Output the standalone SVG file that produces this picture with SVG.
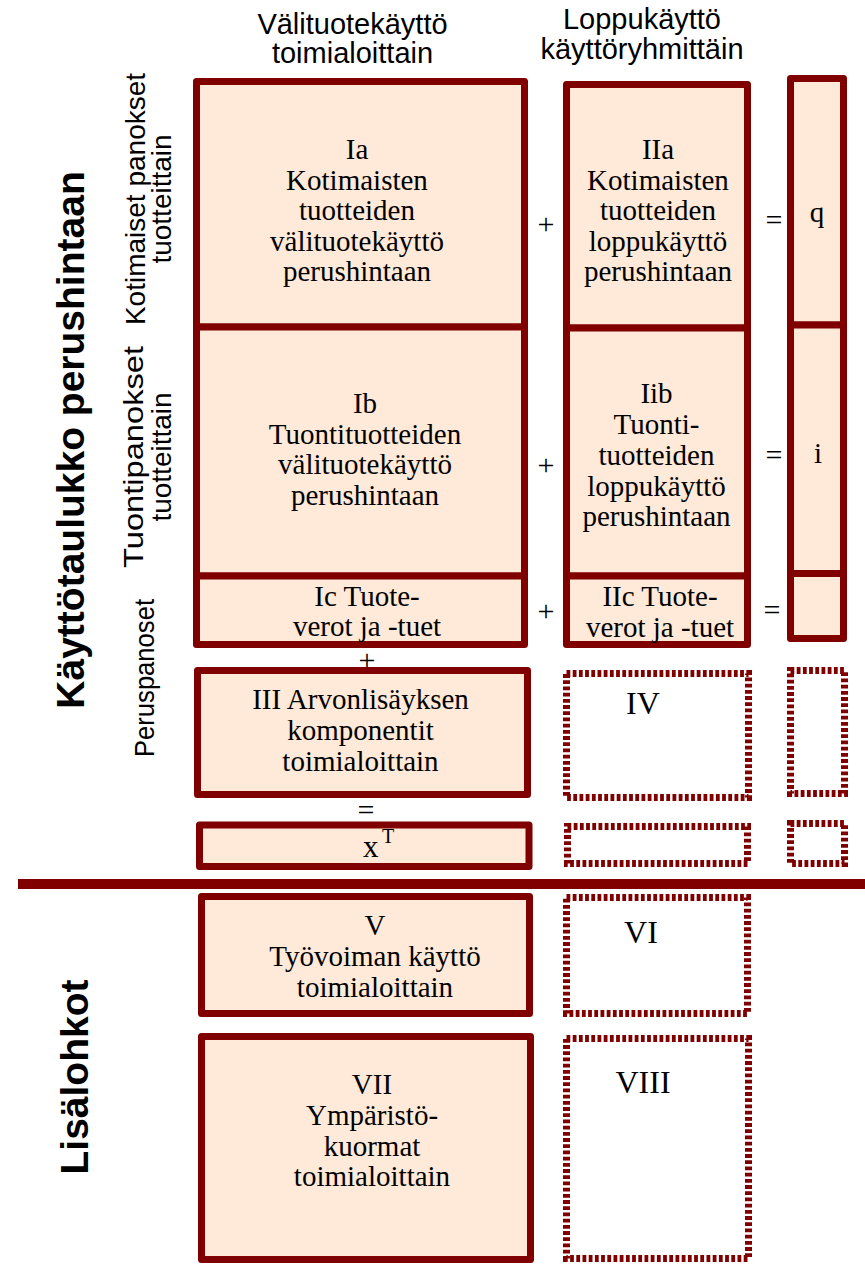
<svg xmlns="http://www.w3.org/2000/svg" width="865" height="1265" viewBox="0 0 865 1265">
<style>
.box{fill:#FFE9D8;stroke:#800000;stroke-width:7;stroke-linejoin:round}
.dash{fill:none;stroke:#800000;stroke-width:7;stroke-dasharray:3.8 2.4}
.t{font-family:"Liberation Serif","Times New Roman",serif;font-size:29px;fill:#000;text-anchor:middle}
.big{font-size:32px}
.op{font-size:30px}
.s{font-family:"Liberation Sans",Arial,sans-serif;font-size:28px;fill:#000;text-anchor:middle}
.h{font-family:"Liberation Sans",Arial,sans-serif;font-size:29px;fill:#000;text-anchor:middle}
.b{font-family:"Liberation Sans",Arial,sans-serif;font-size:39px;font-weight:bold;fill:#000;text-anchor:middle}
</style>
<rect width="865" height="1265" fill="#fff"/>
<g id="headers">
<text class="h" x="352.5" y="34">Välituotekäyttö</text>
<text class="h" x="352.5" y="63">toimialoittain</text>
<text class="h" x="642" y="29">Loppukäyttö</text>
<text class="h" x="642" y="59">käyttöryhmittäin</text>
</g>
<g id="side-labels">
<text class="b" transform="translate(84,440) rotate(-90)">Käyttötaulukko perushintaan</text>
<text class="b" transform="translate(88,1077) rotate(-90)">Lisälohkot</text>
<text class="s" transform="translate(145,199) rotate(-90)">Kotimaiset panokset</text>
<text class="s" transform="translate(171,199) rotate(-90)">tuotteittain</text>
<text class="s" transform="translate(143,457) rotate(-90)" textLength="222" lengthAdjust="spacingAndGlyphs">Tuontipanokset</text>
<text class="s" transform="translate(171,457) rotate(-90)">tuotteittain</text>
<text class="s" transform="translate(154,678) rotate(-90)" textLength="158" lengthAdjust="spacingAndGlyphs">Peruspanoset</text>
</g>
<g id="Ia">
<rect class="box" x="196.5" y="81.5" width="328" height="245.5"/>
<text class="t" x="357" y="159">Ia</text>
<text class="t" x="357" y="189.5">Kotimaisten</text>
<text class="t" x="357" y="220">tuotteiden</text>
<text class="t" x="357" y="250.5">välituotekäyttö</text>
<text class="t" x="357" y="281">perushintaan</text>
</g>
<g id="Ib">
<rect class="box" x="196.5" y="327" width="328" height="249"/>
<text class="t" x="365" y="413">Ib</text>
<text class="t" x="365" y="443.5">Tuontituotteiden</text>
<text class="t" x="365" y="474">välituotekäyttö</text>
<text class="t" x="365" y="504.5">perushintaan</text>
</g>
<g id="Ic">
<rect class="box" x="196.5" y="576" width="328" height="68.5"/>
<text class="t" x="367" y="606">Ic Tuote-</text>
<text class="t" x="367" y="636">verot ja -tuet</text>
</g>
<g id="IIa">
<rect class="box" x="566.5" y="84.5" width="181" height="243.5"/>
<text class="t" x="658" y="159">IIa</text>
<text class="t" x="658" y="189.5">Kotimaisten</text>
<text class="t" x="658" y="220">tuotteiden</text>
<text class="t" x="658" y="250.5">loppukäyttö</text>
<text class="t" x="658" y="281">perushintaan</text>
</g>
<g id="IIb">
<rect class="box" x="566.5" y="328" width="181" height="248"/>
<text class="t" x="656.5" y="403">Iib</text>
<text class="t" x="656.5" y="434">Tuonti-</text>
<text class="t" x="656.5" y="465">tuotteiden</text>
<text class="t" x="656.5" y="496">loppukäyttö</text>
<text class="t" x="656.5" y="526">perushintaan</text>
</g>
<g id="IIc">
<rect class="box" x="566.5" y="576" width="181" height="68.5"/>
<text class="t" x="660" y="606">IIc Tuote-</text>
<text class="t" x="660" y="637">verot ja -tuet</text>
</g>
<g id="q">
<rect class="box" x="790.5" y="78.5" width="53" height="246.5"/>
<text class="t" x="817" y="222">q</text>
</g>
<g id="i">
<rect class="box" x="790.5" y="325" width="53" height="248.5"/>
<text class="t" x="818" y="463">i</text>
</g>
<g id="taxes-total">
<rect class="box" x="790.5" y="573.5" width="53" height="65"/>
</g>
<g id="III">
<rect class="box" x="197.5" y="670.5" width="330" height="124"/>
<text class="t" x="360.5" y="709">III Arvonlisäyksen</text>
<text class="t" x="360.5" y="740">komponentit</text>
<text class="t" x="360.5" y="771">toimialoittain</text>
</g>
<g id="IV">
<rect class="dash" x="566.5" y="673.5" width="182" height="124"/>
<text class="t big" x="643" y="714">IV</text>
</g>
<g id="IV-total">
<rect class="dash" x="790.5" y="670.5" width="54" height="123"/>
</g>
<g id="xT">
<rect class="box" x="199.5" y="825" width="329.5" height="41.5"/>
<text class="t" x="363" y="857" style="text-anchor:start;font-size:31px">x</text>
<text class="t" x="382" y="843" style="text-anchor:start;font-size:20px">T</text>
</g>
<g id="xT-final">
<rect class="dash" x="567.5" y="826.5" width="180" height="37"/>
</g>
<g id="xT-total">
<rect class="dash" x="790.5" y="823.5" width="54" height="40"/>
</g>
<g id="V">
<rect class="box" x="201.5" y="896.5" width="328" height="117"/>
<text class="t" x="375" y="935">V</text>
<text class="t" x="375" y="966">Työvoiman käyttö</text>
<text class="t" x="375" y="997">toimialoittain</text>
</g>
<g id="VI">
<rect class="dash" x="566.5" y="897.5" width="181" height="116"/>
<text class="t big" x="641" y="943">VI</text>
</g>
<g id="VII">
<rect class="box" x="201.5" y="1036.5" width="329" height="223"/>
<text class="t" x="372" y="1094">VII</text>
<text class="t" x="372" y="1124.5">Ympäristö-</text>
<text class="t" x="372" y="1155.5">kuormat</text>
<text class="t" x="372" y="1186">toimialoittain</text>
</g>
<g id="VIII">
<rect class="dash" x="566.5" y="1038.5" width="182" height="220"/>
<text class="t big" x="643" y="1093">VIII</text>
</g>
<g id="connectors">
<line x1="18" y1="884" x2="865" y2="884" stroke="#800000" stroke-width="10"/>
<text class="t op" x="546" y="234">+</text>
<text class="t op" x="774" y="230">=</text>
<text class="t op" x="546" y="475">+</text>
<text class="t op" x="774" y="465">=</text>
<text class="t op" x="546" y="621">+</text>
<text class="t op" x="772" y="620">=</text>
<text class="t op" x="367" y="670">+</text>
<text class="t op" x="366" y="820">=</text>
</g>
</svg>
